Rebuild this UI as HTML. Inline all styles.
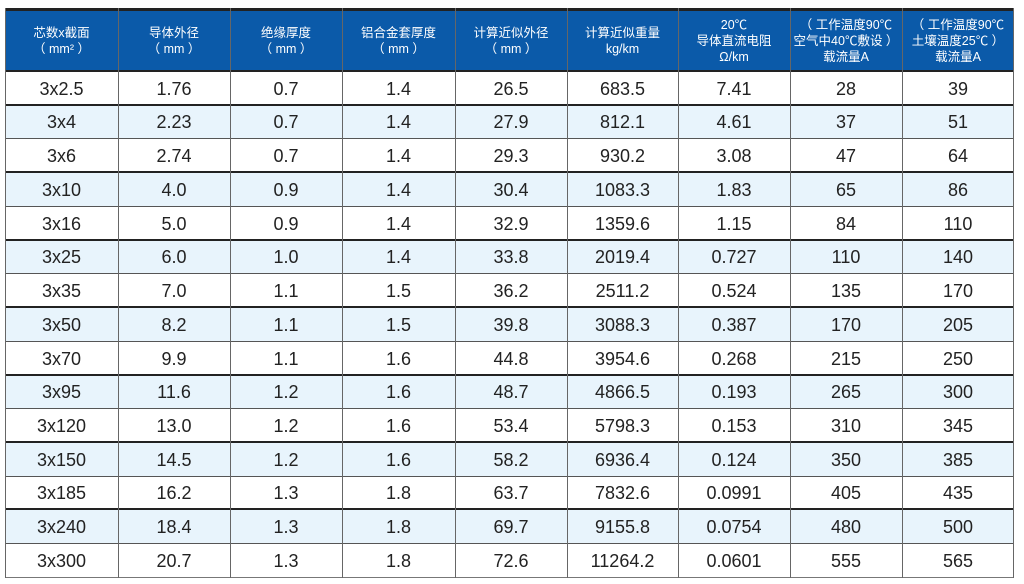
<!DOCTYPE html>
<html><head><meta charset="utf-8"><style>
html,body{margin:0;padding:0;background:#fff;width:1024px;height:584px;overflow:hidden;position:relative}
.hd{position:absolute;left:5px;top:8px;width:1009px;height:63px;background:#0b5aa9;border-top:3px solid #222;box-sizing:border-box}
.r{position:absolute;left:5px;width:1009px;display:flex}
.r div{text-align:center;font-family:"Liberation Sans",sans-serif;font-size:18px;color:#222;white-space:nowrap}
.h{position:absolute;top:11px;height:60px;display:flex;align-items:center;justify-content:center;text-align:center;color:#fff;font-family:"Liberation Sans","Noto Sans CJK SC",sans-serif;font-size:12.5px;line-height:16px}
.b{background:#e8f4fc}
.hl{position:absolute;left:5px;width:1009px;background:#333}
.vl{position:absolute;top:8px;height:570px;width:1px;background:#666}
</style></head><body>
<div class="hd"></div>
<div class="h" style="left:5px;width:113px">芯数x截面<br>（ mm² ）</div>
<div class="h" style="left:118px;width:112px">导体外径<br>（ mm ）</div>
<div class="h" style="left:230px;width:112px">绝缘厚度<br>（ mm ）</div>
<div class="h" style="left:342px;width:113px">铝合金套厚度<br>（ mm ）</div>
<div class="h" style="left:455px;width:112px">计算近似外径<br>（ mm ）</div>
<div class="h" style="left:567px;width:111px">计算近似重量<br>kg/km</div>
<div class="h" style="left:678px;width:112px">20℃<br>导体直流电阻<br>Ω/km</div>
<div class="h" style="left:790px;width:112px">（ 工作温度90℃<br>空气中40℃敷设 ）<br>载流量A</div>
<div class="h" style="left:902px;width:112px">（ 工作温度90℃<br>土壤温度25℃ ）<br>载流量A</div>
<div id="rows"></div>
<div class="r" style="top:71px;height:34px;line-height:36px"><div style="width:113px">3x2.5</div><div style="width:112px">1.76</div><div style="width:112px">0.7</div><div style="width:113px">1.4</div><div style="width:112px">26.5</div><div style="width:111px">683.5</div><div style="width:112px">7.41</div><div style="width:112px">28</div><div style="width:112px">39</div></div>
<div class="r b" style="top:105px;height:33px;line-height:35px"><div style="width:113px">3x4</div><div style="width:112px">2.23</div><div style="width:112px">0.7</div><div style="width:113px">1.4</div><div style="width:112px">27.9</div><div style="width:111px">812.1</div><div style="width:112px">4.61</div><div style="width:112px">37</div><div style="width:112px">51</div></div>
<div class="r" style="top:138px;height:34px;line-height:36px"><div style="width:113px">3x6</div><div style="width:112px">2.74</div><div style="width:112px">0.7</div><div style="width:113px">1.4</div><div style="width:112px">29.3</div><div style="width:111px">930.2</div><div style="width:112px">3.08</div><div style="width:112px">47</div><div style="width:112px">64</div></div>
<div class="r b" style="top:172px;height:34px;line-height:36px"><div style="width:113px">3x10</div><div style="width:112px">4.0</div><div style="width:112px">0.9</div><div style="width:113px">1.4</div><div style="width:112px">30.4</div><div style="width:111px">1083.3</div><div style="width:112px">1.83</div><div style="width:112px">65</div><div style="width:112px">86</div></div>
<div class="r" style="top:206px;height:34px;line-height:36px"><div style="width:113px">3x16</div><div style="width:112px">5.0</div><div style="width:112px">0.9</div><div style="width:113px">1.4</div><div style="width:112px">32.9</div><div style="width:111px">1359.6</div><div style="width:112px">1.15</div><div style="width:112px">84</div><div style="width:112px">110</div></div>
<div class="r b" style="top:240px;height:33px;line-height:35px"><div style="width:113px">3x25</div><div style="width:112px">6.0</div><div style="width:112px">1.0</div><div style="width:113px">1.4</div><div style="width:112px">33.8</div><div style="width:111px">2019.4</div><div style="width:112px">0.727</div><div style="width:112px">110</div><div style="width:112px">140</div></div>
<div class="r" style="top:273px;height:34px;line-height:36px"><div style="width:113px">3x35</div><div style="width:112px">7.0</div><div style="width:112px">1.1</div><div style="width:113px">1.5</div><div style="width:112px">36.2</div><div style="width:111px">2511.2</div><div style="width:112px">0.524</div><div style="width:112px">135</div><div style="width:112px">170</div></div>
<div class="r b" style="top:307px;height:34px;line-height:36px"><div style="width:113px">3x50</div><div style="width:112px">8.2</div><div style="width:112px">1.1</div><div style="width:113px">1.5</div><div style="width:112px">39.8</div><div style="width:111px">3088.3</div><div style="width:112px">0.387</div><div style="width:112px">170</div><div style="width:112px">205</div></div>
<div class="r" style="top:341px;height:34px;line-height:36px"><div style="width:113px">3x70</div><div style="width:112px">9.9</div><div style="width:112px">1.1</div><div style="width:113px">1.6</div><div style="width:112px">44.8</div><div style="width:111px">3954.6</div><div style="width:112px">0.268</div><div style="width:112px">215</div><div style="width:112px">250</div></div>
<div class="r b" style="top:375px;height:33px;line-height:35px"><div style="width:113px">3x95</div><div style="width:112px">11.6</div><div style="width:112px">1.2</div><div style="width:113px">1.6</div><div style="width:112px">48.7</div><div style="width:111px">4866.5</div><div style="width:112px">0.193</div><div style="width:112px">265</div><div style="width:112px">300</div></div>
<div class="r" style="top:408px;height:34px;line-height:36px"><div style="width:113px">3x120</div><div style="width:112px">13.0</div><div style="width:112px">1.2</div><div style="width:113px">1.6</div><div style="width:112px">53.4</div><div style="width:111px">5798.3</div><div style="width:112px">0.153</div><div style="width:112px">310</div><div style="width:112px">345</div></div>
<div class="r b" style="top:442px;height:34px;line-height:36px"><div style="width:113px">3x150</div><div style="width:112px">14.5</div><div style="width:112px">1.2</div><div style="width:113px">1.6</div><div style="width:112px">58.2</div><div style="width:111px">6936.4</div><div style="width:112px">0.124</div><div style="width:112px">350</div><div style="width:112px">385</div></div>
<div class="r" style="top:476px;height:33px;line-height:35px"><div style="width:113px">3x185</div><div style="width:112px">16.2</div><div style="width:112px">1.3</div><div style="width:113px">1.8</div><div style="width:112px">63.7</div><div style="width:111px">7832.6</div><div style="width:112px">0.0991</div><div style="width:112px">405</div><div style="width:112px">435</div></div>
<div class="r b" style="top:509px;height:34px;line-height:36px"><div style="width:113px">3x240</div><div style="width:112px">18.4</div><div style="width:112px">1.3</div><div style="width:113px">1.8</div><div style="width:112px">69.7</div><div style="width:111px">9155.8</div><div style="width:112px">0.0754</div><div style="width:112px">480</div><div style="width:112px">500</div></div>
<div class="r" style="top:543px;height:34px;line-height:36px"><div style="width:113px">3x300</div><div style="width:112px">20.7</div><div style="width:112px">1.3</div><div style="width:113px">1.8</div><div style="width:112px">72.6</div><div style="width:111px">11264.2</div><div style="width:112px">0.0601</div><div style="width:112px">555</div><div style="width:112px">565</div></div>
<div class="hl" style="top:70px;height:2px;background:#222"></div>
<div class="hl" style="top:104px;height:2px;background:#222"></div>
<div class="hl" style="top:138px;height:1px;background:#555"></div>
<div class="hl" style="top:171px;height:2px;background:#222"></div>
<div class="hl" style="top:206px;height:1px;background:#555"></div>
<div class="hl" style="top:239px;height:2px;background:#222"></div>
<div class="hl" style="top:273px;height:1px;background:#555"></div>
<div class="hl" style="top:306px;height:2px;background:#222"></div>
<div class="hl" style="top:341px;height:1px;background:#555"></div>
<div class="hl" style="top:374px;height:2px;background:#222"></div>
<div class="hl" style="top:408px;height:1px;background:#555"></div>
<div class="hl" style="top:441px;height:2px;background:#222"></div>
<div class="hl" style="top:476px;height:1px;background:#555"></div>
<div class="hl" style="top:508px;height:2px;background:#222"></div>
<div class="hl" style="top:543px;height:1px;background:#555"></div>
<div class="hl" style="top:577px;height:1px;background:#777"></div>
<div class="vl" style="left:5px"></div>
<div class="vl" style="left:118px"></div>
<div class="vl" style="left:230px"></div>
<div class="vl" style="left:342px"></div>
<div class="vl" style="left:455px"></div>
<div class="vl" style="left:567px"></div>
<div class="vl" style="left:678px"></div>
<div class="vl" style="left:790px"></div>
<div class="vl" style="left:902px"></div>
<div class="vl" style="left:1013px"></div>
</body></html>
